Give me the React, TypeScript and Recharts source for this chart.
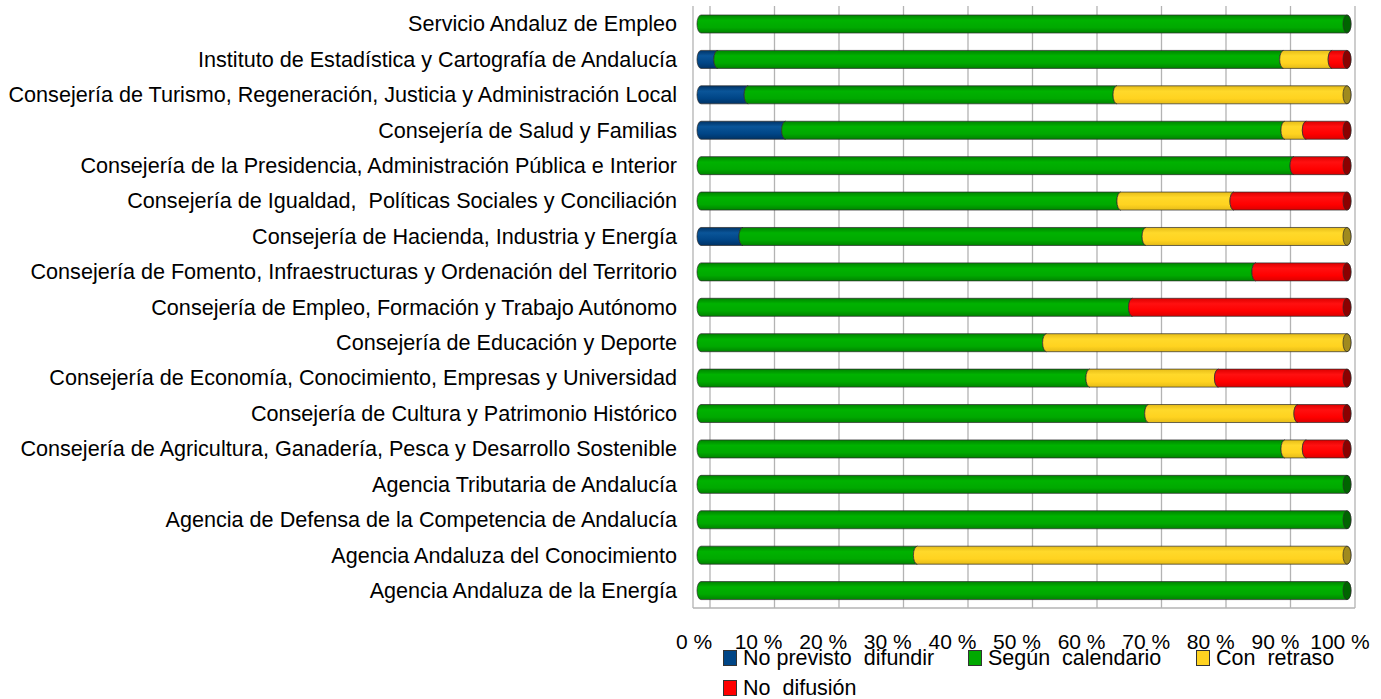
import React from "react"
import { BarChart, Bar, XAxis, YAxis, CartesianGrid, Legend } from "recharts"

const categories = [
  "Servicio Andaluz de Empleo",
  "Instituto de Estadística y Cartografía de Andalucía",
  "Consejería de Turismo, Regeneración, Justicia y Administración Local",
  "Consejería de Salud y Familias",
  "Consejería de la Presidencia, Administración Pública e Interior",
  "Consejería de Igualdad,  Políticas Sociales y Conciliación",
  "Consejería de Hacienda, Industria y Energía",
  "Consejería de Fomento, Infraestructuras y Ordenación del Territorio",
  "Consejería de Empleo, Formación y Trabajo Autónomo",
  "Consejería de Educación y Deporte",
  "Consejería de Economía, Conocimiento, Empresas y Universidad",
  "Consejería de Cultura y Patrimonio Histórico",
  "Consejería de Agricultura, Ganadería, Pesca y Desarrollo Sostenible",
  "Agencia Tributaria de Andalucía",
  "Agencia de Defensa de la Competencia de Andalucía",
  "Agencia Andaluza del Conocimiento",
  "Agencia Andaluza de la Energía",
]

// percentages per organism
const noPrevisto = [0, 2.6, 7.3, 13.1, 0, 0, 6.5, 0, 0, 0, 0, 0, 0, 0, 0, 0, 0]
const segunCalendario = [100, 87.6, 57.1, 77.3, 91.8, 65, 62.4, 85.9, 66.8, 53.5, 60.2, 69.3, 90.4, 100, 100, 33.5, 100]
const conRetraso = [0, 7.5, 35.6, 3.3, 0, 17.5, 31.1, 0, 0, 46.5, 19.9, 23.1, 3.3, 0, 0, 66.5, 0]
const noDifusion = [0, 2.3, 0, 6.3, 8.2, 17.5, 0, 14.1, 33.2, 0, 19.9, 7.6, 6.3, 0, 0, 0, 0]

const xTicks = [0, 10, 20, 30, 40, 50, 60, 70, 80, 90, 100]

const series = [
  { key: "noPrevisto", name: "No previsto  difundir", color: "#004586", light: "#0a5599", dark: "#003366", cap: "#00284f" },
  { key: "segun", name: "Según  calendario", color: "#00a900", light: "#00b200", dark: "#008400", cap: "#006400" },
  { key: "retraso", name: "Con  retraso", color: "#ffd320", light: "#ffd92a", dark: "#e6bc18", cap: "#a08a1e" },
  { key: "noDifusion", name: "No  difusión", color: "#ff0000", light: "#ff1010", dark: "#dd0000", cap: "#8b0000" },
]

const data = categories.map((name, i) => ({
  name,
  noPrevisto: noPrevisto[i],
  segun: segunCalendario[i],
  retraso: conRetraso[i],
  noDifusion: noDifusion[i],
}))

const FONT = "'Liberation Sans', Arial, sans-serif"

function makeShape(idx: number) {
  return (props: any) => {
    const { x, y, width, height, payload } = props
    if (!width || width <= 0) return <g />
    const s = series[idx]
    const rx = 4
    const ry = height / 2
    const last = series.slice(idx + 1).every((t) => !payload[t.key])
    const x1 = x + width
    const y1 = y + height
    const d = last
      ? `M${x},${y} L${x1},${y} A${rx},${ry} 0 0 1 ${x1},${y1} L${x},${y1} A${rx},${ry} 0 0 1 ${x},${y} Z`
      : `M${x},${y} L${x1},${y} A${rx},${ry} 0 0 0 ${x1},${y1} L${x},${y1} A${rx},${ry} 0 0 1 ${x},${y} Z`
    return (
      <g>
        <path d={d} fill={`url(#cyl-${s.key})`} stroke="#2b2b2b" strokeOpacity={0.7} strokeWidth={1} />
        {last && (
          <ellipse cx={x1} cy={y + ry} rx={rx} ry={ry} fill={s.cap} stroke="#2b2b2b" strokeOpacity={0.7} strokeWidth={1} />
        )}
      </g>
    )
  }
}

const CategoryTick = (props: any) => {
  const { x, y, payload } = props
  return (
    <text x={x} y={y} dy="0.355em" textAnchor="end" fontSize={21.6} fontFamily={FONT} fill="#000" style={{ whiteSpace: "pre" }}>
      {payload.value}
    </text>
  )
}

const PercentTick = (props: any) => {
  const { x, y, payload } = props
  return (
    <text x={x - 7} y={y} dy="0.71em" textAnchor="middle" fontSize={21} fontFamily={FONT} fill="#000">
      {`${payload.value} %`}
    </text>
  )
}

const itemWidths = [245, 228, 177, 245]

const LegendBox = () => (
  <div style={{ display: "flex", flexWrap: "wrap", width: 650, fontFamily: FONT, fontSize: 21.5, lineHeight: "30px", color: "#000" }}>
    {series.map((s, i) => (
      <div key={s.key} style={{ width: itemWidths[i], display: "flex", alignItems: "center" }}>
        <span style={{ display: "inline-block", width: 14, height: 16, background: s.color, border: "1px solid #333", boxSizing: "border-box" }} />
        <span style={{ marginLeft: 6, whiteSpace: "pre" }}>{s.name}</span>
      </div>
    ))}
  </div>
)

export default function App() {
  return (
    <div style={{ position: "absolute", left: 0, top: 0, background: "#fff" }}>
      <BarChart
        width={1381}
        height={699}
        data={data}
        layout="vertical"
        barSize={18}
        margin={{ top: 6, right: 26, bottom: 51, left: 0 }}
      >
        <defs>
          {series.map((s) => (
            <linearGradient key={s.key} id={`cyl-${s.key}`} x1="0" y1="0" x2="0" y2="1">
              <stop offset="0%" stopColor={s.dark} />
              <stop offset="30%" stopColor={s.light} />
              <stop offset="70%" stopColor={s.color} />
              <stop offset="100%" stopColor={s.dark} />
            </linearGradient>
          ))}
        </defs>
        <CartesianGrid
          horizontal={false}
          stroke="#b3b3b3"
          strokeWidth={1.3}
          verticalCoordinatesGenerator={({ offset }: any) =>
            xTicks.map((t) => offset.left + 17 + (t / 100) * (offset.width - 17))
          }
        />
        <XAxis
          type="number"
          domain={[0, 100]}
          ticks={xTicks}
          interval={0}
          padding={{ left: 8, right: 8 }}
          axisLine={{ stroke: "#b3b3b3", strokeWidth: 1.3 }}
          tickLine={false}
          tickSize={0}
          tickMargin={26}
          height={40}
          tick={<PercentTick />}
        />
        <YAxis
          type="category"
          dataKey="name"
          width={693}
          interval={0}
          axisLine={{ stroke: "#b3b3b3", strokeWidth: 1.3 }}
          tickLine={false}
          tickSize={0}
          tickMargin={16}
          tick={<CategoryTick />}
        />
        <Legend
          layout="horizontal"
          verticalAlign="middle"
          align="center"
          wrapperStyle={{ position: "absolute", left: 723, top: 643, width: 650 }}
          content={() => <LegendBox />}
        />
        {series.map((s, i) => (
          <Bar
            key={s.key}
            dataKey={s.key}
            name={s.name}
            stackId="a"
            fill={s.color}
            shape={makeShape(i)}
            isAnimationActive={false}
          />
        ))}
      </BarChart>
    </div>
  )
}
